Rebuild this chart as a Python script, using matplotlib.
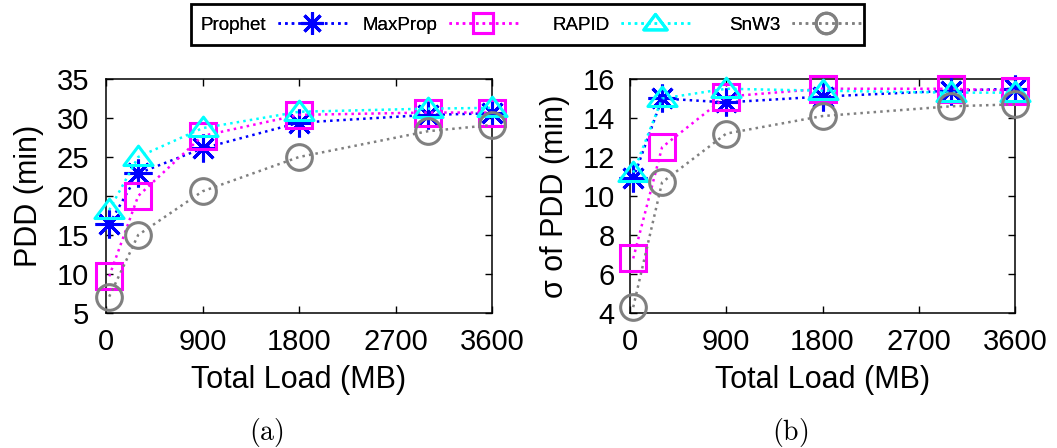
### PDD vs total load, two panels ###

import numpy as np
import matplotlib
matplotlib.use('Agg')
import matplotlib.pyplot as plt
from matplotlib.path import Path
from matplotlib.patches import Rectangle

plt.rcParams['font.family'] = ['Liberation Sans', 'DejaVu Sans']
plt.rcParams['mathtext.fontset'] = 'cm'

# data
load = [30, 300, 900, 1800, 3000, 3600]   # Total Load (MB)

pdd_prophet = [16.4, 22.9, 26.1, 29.4, 30.4, 30.6]
pdd_maxprop = [9.7, 20.0, 27.7, 30.4, 30.7, 30.7]
pdd_rapid   = [18.2, 25.0, 28.7, 30.8, 31.2, 31.3]
pdd_snw3    = [7.1, 15.0, 20.6, 25.0, 28.3, 29.1]

sd_prophet = [10.9, 15.0, 14.8, 15.1, 15.4, 15.5]
sd_maxprop = [6.8, 12.5, 15.1, 15.5, 15.5, 15.4]
sd_rapid   = [11.2, 15.0, 15.5, 15.4, 15.3, 15.3]
sd_snw3    = [4.3, 10.7, 13.2, 14.1, 14.6, 14.7]

names = ['Prophet', 'MaxProp', 'RAPID', 'SnW3']
colors = ['#0000ff', '#ff00ff', '#00ffff', '#808080']

# gnuplot-like flat triangle
tri = Path([(0, 0.78), (-1, -0.55), (1, -0.55), (0, 0.78)],
           [Path.MOVETO, Path.LINETO, Path.LINETO, Path.CLOSEPOLY])
markers = [(8, 2, 0), 's', tri, 'o']
msizes = [20, 18.5, 21, 18.5]

W, H = 1057, 448
fig = plt.figure(figsize=(W/100, H/100), dpi=100)
ax1 = fig.add_axes([106/W, 1-313/H, 386/W, 234/H])
ax2 = fig.add_axes([630/W, 1-313/H, 385/W, 234/H])

panels = [(ax1, [pdd_prophet, pdd_maxprop, pdd_rapid, pdd_snw3], 'PDD (min)',
           (5, 35), np.arange(5, 36, 5), 12),
          (ax2, [sd_prophet, sd_maxprop, sd_rapid, sd_snw3], 'σ of PDD (min)',
           (4, 16), np.arange(4, 17, 2), 11)]

for ax, series, ylab, ylim, yt, ypad in panels:
    for i in range(len(names)):
        ax.plot(load, series[i], linestyle=':', color=colors[i], linewidth=1.8,
                marker=markers[i], markersize=msizes[i], markerfacecolor='none',
                markeredgecolor=colors[i], markeredgewidth=2.2,
                label=names[i], clip_on=False, zorder=3)
    ax.set_xlim(0, 3600)
    ax.set_ylim(*ylim)
    ax.set_xticks([0, 900, 1800, 2700, 3600])
    ax.set_yticks(yt)
    ax.tick_params(direction='in', length=5, width=1, top=True, right=True,
                   labelsize=21)
    ax.tick_params(axis='x', pad=11)
    ax.tick_params(axis='y', pad=ypad)
    for s in ax.spines.values():
        s.set_linewidth(1.1)
    ax.set_xlabel('Total Load (MB)', fontsize=22, labelpad=6)
    ax.set_ylabel(ylab, fontsize=22, labelpad=9)

fig.text(266/W, 1-432/H, r'$\mathrm{(a)}$', fontsize=20, ha='center', va='center')
fig.text(790/W, 1-432/H, r'$\mathrm{(b)}$', fontsize=20, ha='center', va='center')

# gnuplot style key: text right-aligned before each sample, one frame round all
h, l = ax1.get_legend_handles_labels()
sample_end = [347, 518, 690, 861]
for i in range(len(h)):
    lg = fig.legend([h[i]], [l[i]], loc='center right',
                    bbox_to_anchor=(sample_end[i]/W, 1-25/H),
                    markerfirst=False, fontsize=13.5, handlelength=3.7,
                    handletextpad=0.6, markerscale=0.8, borderpad=0,
                    borderaxespad=0, frameon=False)
    fig.add_artist(lg)
fig.add_artist(Rectangle((191/W, 1-45/H), 673/W, 41/H, transform=fig.transFigure,
                         fill=False, edgecolor='black', linewidth=2.0))

fig.savefig('out.png', dpi=100)
